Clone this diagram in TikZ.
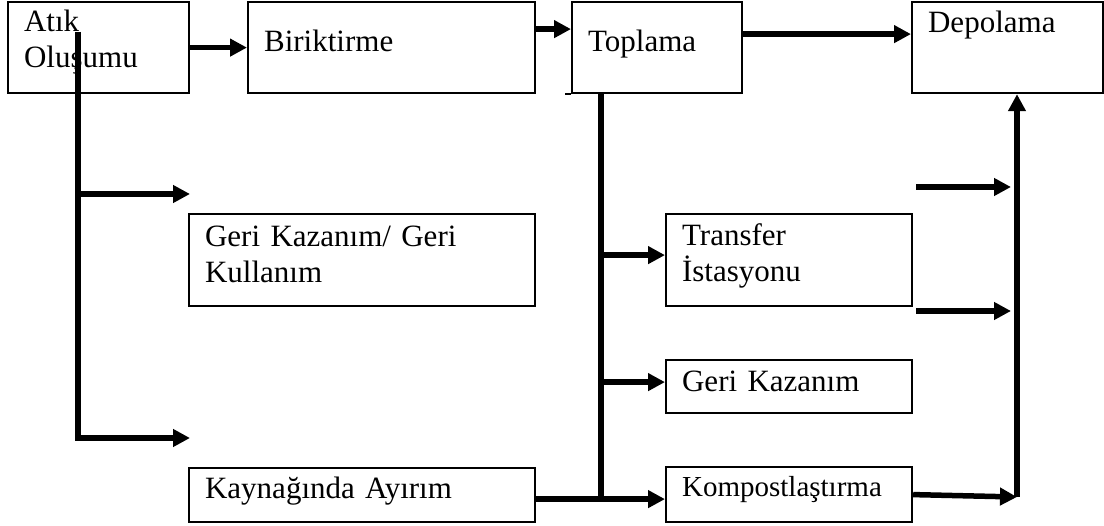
\documentclass[tikz,border=0pt]{standalone}
\usepackage{fontspec}
\setmainfont{Liberation Serif}
\usetikzlibrary{arrows.meta}
\usetikzlibrary{positioning}
\tikzset{
  box/.style={draw, line width=2.2pt, anchor=north west, align=left,
    inner xsep=16pt, inner ysep=0pt, text height=22pt,
    font=\fontsize{31}{36}\selectfont},
  trunk/.style={line width=5.5pt},
  flow/.style={line width=5.5pt, -{Triangle[length=17pt,width=17pt]}},
}

\begin{document}
\begin{tikzpicture}[x=1pt, y=-1pt]
  \useasboundingbox (0,0) rectangle (1104,526);

  % top row
  \node[box, text width=149pt, minimum height=91pt, text depth=55pt] (atik) at (7,1) {Atık\\Oluşumu};
  \node[box, text width=255pt, minimum height=91pt, text depth=15pt] (birik) at (247,1) {Biriktirme};
  \node[box, text width=138pt, minimum height=91pt, text depth=15pt] (topla) at (571,1) {Toplama};
  \node[box, text width=159pt, minimum height=91pt, text depth=53pt] (depo) at (911,1) {Depolama};

  % left column
  \node[box, text width=314pt, minimum height=92pt, text depth=50pt] (gerikul) at (188,213) {Geri Kazanım/ Geri\\Kullanım};
  \node[box, text width=314pt, minimum height=54pt, text depth=16pt] (kaynak) at (188,467) {Kaynağında Ayırım};

  % middle column
  \node[box, text width=214pt, minimum height=92pt, text depth=52pt] (transfer) at (665,213) {Transfer\\İstasyonu};
  \node[box, text width=214pt, minimum height=53pt, text depth=13pt] (gerikaz) at (665,359) {Geri Kazanım};
  \node[box, text width=214pt, minimum height=55pt, text depth=19pt, font=\fontsize{29}{34}\selectfont] (kompost) at (665,466) {Kompostlaştırma};

  \draw[line width=2.2pt] (topla.south west) -- ++(-6,0);

  % top arrows
  \draw[flow] (atik) -- (birik);
  \draw[flow] ([yshift=18.5pt]birik.east) -- ([yshift=18.5pt]topla.west);
  \draw[flow] ([yshift=13.5pt]topla.east) -- ([yshift=13.5pt]depo.west);

  % from Atik Olusumu
  \coordinate (asplit) at (78,32);
  \coordinate (gkend) at (190,194);
  \coordinate (kaend) at (190,438);
  \draw[flow] (asplit) |- (kaend);
  \draw[flow] (asplit |- gkend) -- (gkend);

  % from Toplama
  \coordinate (tsplit) at ([xshift=-56pt]topla.south);
  \coordinate (kjoin) at ([yshift=-4pt]kaynak.east);
  \draw[trunk] (tsplit) -- (tsplit |- kjoin);
  \draw[flow] (tsplit |- transfer.west) ++(0,-5) -- ([yshift=5pt]transfer.west);
  \draw[flow] (tsplit |- gerikaz.west) ++(0,-4.5) -- ([yshift=4.5pt]gerikaz.west);
  \draw[flow] (kjoin) -- (kjoin -| kompost.west);

  % to Depolama
  \coordinate (dmerge) at (1017,497);
  \coordinate (r1a) at (916,187);
  \coordinate (r1b) at (1011,187);
  \coordinate (r2a) at (916,311);
  \coordinate (r2b) at (1011,311);
  \draw[flow] (kompost.east) -- (dmerge);
  \draw[flow] (dmerge) -- (dmerge |- depo.south);
  \draw[flow] (r1a) -- (r1b);
  \draw[flow] (r2a) -- (r2b);
\end{tikzpicture}
\end{document}
